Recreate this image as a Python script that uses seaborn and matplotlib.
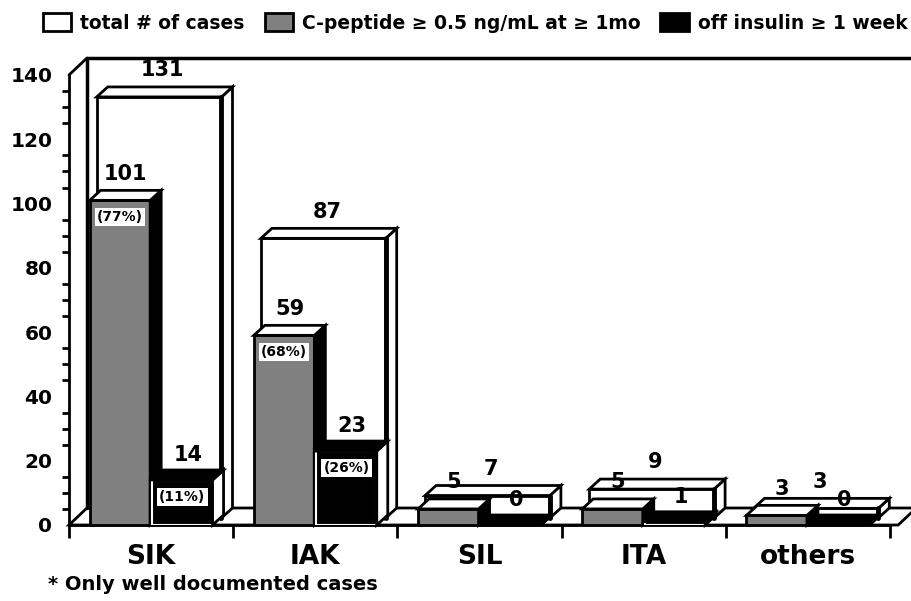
import numpy as np
import pandas as pd
import matplotlib
matplotlib.use("Agg")
import matplotlib.pyplot as plt
import seaborn as sns
from matplotlib.patches import Polygon, Patch
from matplotlib.lines import Line2D
from matplotlib.ticker import MultipleLocator, FixedLocator
import matplotlib.patheffects as pe

# ---------------- data ----------------
categories = ["SIK", "IAK", "SIL", "ITA", "others"]
total_cases = [131, 87, 7, 9, 3]
cpeptide = [101, 59, 5, 5, 3]
off_insulin = [14, 23, 0, 1, 0]
cpeptide_pct = ["(77%)", "(68%)", "", "", ""]
off_insulin_pct = ["(11%)", "(26%)", "", "", ""]
legend_labels = ["total # of cases", "C-peptide \u2265 0.5 ng/mL at \u2265 1mo", "off insulin \u2265 1 week"]
y_ticks = [0, 20, 40, 60, 80, 100, 120, 140]
footnote = "* Only well documented cases"

GRAY = "#808080"
LW = 2.0

sns.set_theme(style="white")
plt.rcParams["font.family"] = ["DejaVu Sans"]
plt.rcParams["font.weight"] = "bold"
plt.rcParams["text.color"] = "black"
plt.rcParams["axes.labelcolor"] = "black"
plt.rcParams["xtick.color"] = "black"
plt.rcParams["ytick.color"] = "black"

fig = plt.figure(figsize=(9.12, 6.01), dpi=100)
ax = fig.add_axes([69 / 912, 76 / 601, 821 / 912, 450 / 601])

# back row: total cases
sns.barplot(x=categories, y=total_cases, color="white", saturation=1, width=0.76,
            edgecolor="black", linewidth=LW, errorbar=None, ax=ax)
n_total = len(ax.patches)

# front row: c-peptide and off insulin
df = pd.DataFrame({
    "category": categories * 2,
    "value": cpeptide + off_insulin,
    "series": [legend_labels[1]] * len(categories) + [legend_labels[2]] * len(categories),
})
sns.barplot(data=df, x="category", y="value", hue="series",
            palette=[GRAY, "black"], saturation=1, width=0.76, gap=0.03,
            edgecolor="black", linewidth=LW, errorbar=None, legend=False, ax=ax)

ax.set_xlim(-0.5, 4.5)
ax.set_ylim(0, 140)
ax.set_xlabel("")
ax.set_ylabel("")


def px2data(dx, dy):
    p0 = ax.transData.transform((0, 0))
    q = ax.transData.inverted().transform(p0 + np.array([dx, dy]))
    return q[0], q[1]


row_dx, row_dy = px2data(8, 7)       # depth offset of back row
ext_dx, ext_dy = px2data(11, 10)     # extrusion depth of each bar
fl_dx, fl_dy = px2data(18, 17)       # depth of floor / wall

patches = list(ax.patches)
tot_p = patches[:n_total]
gray_p = patches[n_total:n_total + len(categories)]
blk_p = patches[n_total + len(categories):n_total + 2 * len(categories)]


def faces(p, top_fc, side_fc, z, side_lw=LW):
    x0, y0, w, h = p.get_x(), p.get_y(), p.get_width(), p.get_height()
    side = Polygon([(x0 + w, y0), (x0 + w + ext_dx, y0 + ext_dy),
                    (x0 + w + ext_dx, y0 + h + ext_dy), (x0 + w, y0 + h)],
                   closed=True, fc=side_fc, ec="black", lw=side_lw, zorder=z,
                   clip_on=False, joinstyle="miter")
    top = Polygon([(x0, y0 + h), (x0 + w, y0 + h),
                   (x0 + w + ext_dx, y0 + h + ext_dy), (x0 + ext_dx, y0 + h + ext_dy)],
                  closed=True, fc=top_fc, ec="black", lw=LW, zorder=z,
                  clip_on=False, joinstyle="miter")
    ax.add_patch(side)
    ax.add_patch(top)


# floor and back wall
floor = Polygon([(-0.5, 0), (4.55, 0), (4.55 + fl_dx, fl_dy), (-0.5 + fl_dx, fl_dy)],
                closed=True, fc="white", ec="black", lw=LW, zorder=0.5, clip_on=False)
ax.add_patch(floor)
ax.add_line(Line2D([-0.5 + fl_dx, -0.5 + fl_dx, 5.0], [fl_dy, 140 + fl_dy, 140 + fl_dy],
                   color="black", lw=LW + 0.5, zorder=0.6, clip_on=False))
ax.add_line(Line2D([-0.5, -0.5 + fl_dx], [140, 140 + fl_dy],
                   color="black", lw=LW, zorder=0.6, clip_on=False))

# back row bars
for p, v in zip(tot_p, total_cases):
    p.set_x(p.get_x() + row_dx)
    p.set_y(p.get_y() + row_dy)
    p.set_zorder(1)
    faces(p, "white", "white", 1)
    # heavier inner edge of the side face, as in the reference
    x1 = p.get_x() + p.get_width()
    ax.add_line(Line2D([x1, x1], [p.get_y(), p.get_y() + p.get_height()],
                       color="black", lw=3.5, zorder=1.1, clip_on=False))
    cx = p.get_x() + p.get_width() / 2
    ax.annotate(str(v), xy=(cx, p.get_y() + p.get_height()), xytext=(2.5, 12),
                textcoords="offset points", ha="center", va="bottom",
                fontsize=15, fontweight="bold", zorder=6, annotation_clip=False)

# front row bars
for p, v, pct in zip(gray_p, cpeptide, cpeptide_pct):
    p.set_zorder(3)
    faces(p, "white", "black", 3)
    cx = p.get_x() + p.get_width() / 2
    top = p.get_y() + p.get_height()
    ax.annotate(str(v), xy=(cx, top), xytext=(4, 12), textcoords="offset points",
                ha="center", va="bottom", fontsize=15, fontweight="bold", zorder=6)
    if pct:
        ax.annotate(pct, xy=(cx, top), xytext=(0, -12), textcoords="offset points",
                    ha="center", va="center", fontsize=10, fontweight="bold", zorder=6,
                    bbox=dict(boxstyle="square,pad=0.15", fc="white", ec="none"))

for p, v, pct in zip(blk_p, off_insulin, off_insulin_pct):
    p.set_zorder(4)
    p.set_edgecolor("white")
    p.set_linewidth(1.5)
    p.set_path_effects([pe.withStroke(linewidth=4.5, foreground="black")])
    faces(p, "black", "white", 4)
    cx = p.get_x() + p.get_width() / 2
    top = p.get_y() + p.get_height()
    ax.annotate(str(v), xy=(cx, top), xytext=(4, 11), textcoords="offset points",
                ha="center", va="bottom", fontsize=15, fontweight="bold", zorder=6)
    if pct:
        ax.annotate(pct, xy=(cx, top), xytext=(0, -12), textcoords="offset points",
                    ha="center", va="center", fontsize=10, fontweight="bold", zorder=6,
                    bbox=dict(boxstyle="square,pad=0.15", fc="white", ec="none"))

# axes styling
for s in ["top", "right"]:
    ax.spines[s].set_visible(False)
ax.spines["left"].set_linewidth(LW)
ax.spines["left"].set_color("black")
ax.spines["bottom"].set_linewidth(LW)
ax.spines["bottom"].set_color("black")
ax.spines["bottom"].set_zorder(0.7)

ax.yaxis.set_major_locator(FixedLocator(y_ticks))
ax.yaxis.set_minor_locator(MultipleLocator(5))
ax.set_yticks(y_ticks)
ax.set_yticklabels([str(t) for t in y_ticks], fontsize=14.5, fontweight="bold", color="black")
ax.tick_params(axis="y", which="major", direction="out", length=11, width=2, pad=1, color="black")
ax.tick_params(axis="y", which="minor", direction="out", length=5, width=2, color="black", left=True)

ax.set_xticks(range(len(categories)))
ax.set_xticklabels(categories, fontsize=19, fontweight="bold", color="black")
ax.xaxis.set_minor_locator(FixedLocator(np.arange(-0.5, len(categories), 1.0)))
ax.tick_params(axis="x", which="major", length=0, pad=14)
ax.tick_params(axis="x", which="minor", direction="out", length=9, width=2, color="black", bottom=True)
ax.grid(False)
ax.set_facecolor("none")

# legend
handles = [Patch(fc="white", ec="black", lw=LW),
           Patch(fc=GRAY, ec="black", lw=LW),
           Patch(fc="black", ec="black", lw=LW)]
leg = fig.legend(handles, legend_labels, ncol=3, loc="center left",
                 bbox_to_anchor=(43 / 912, 1 - 23 / 601), frameon=False,
                 prop=dict(size=13.5, weight="bold"), handlelength=1.5, handleheight=1.1,
                 handletextpad=0.5, columnspacing=1.05, borderpad=0, borderaxespad=0)

fig.text(48 / 912, 1 - 585 / 601, footnote, fontsize=14, fontweight="bold",
         ha="left", va="center")

fig.savefig("out.png", dpi=100)
